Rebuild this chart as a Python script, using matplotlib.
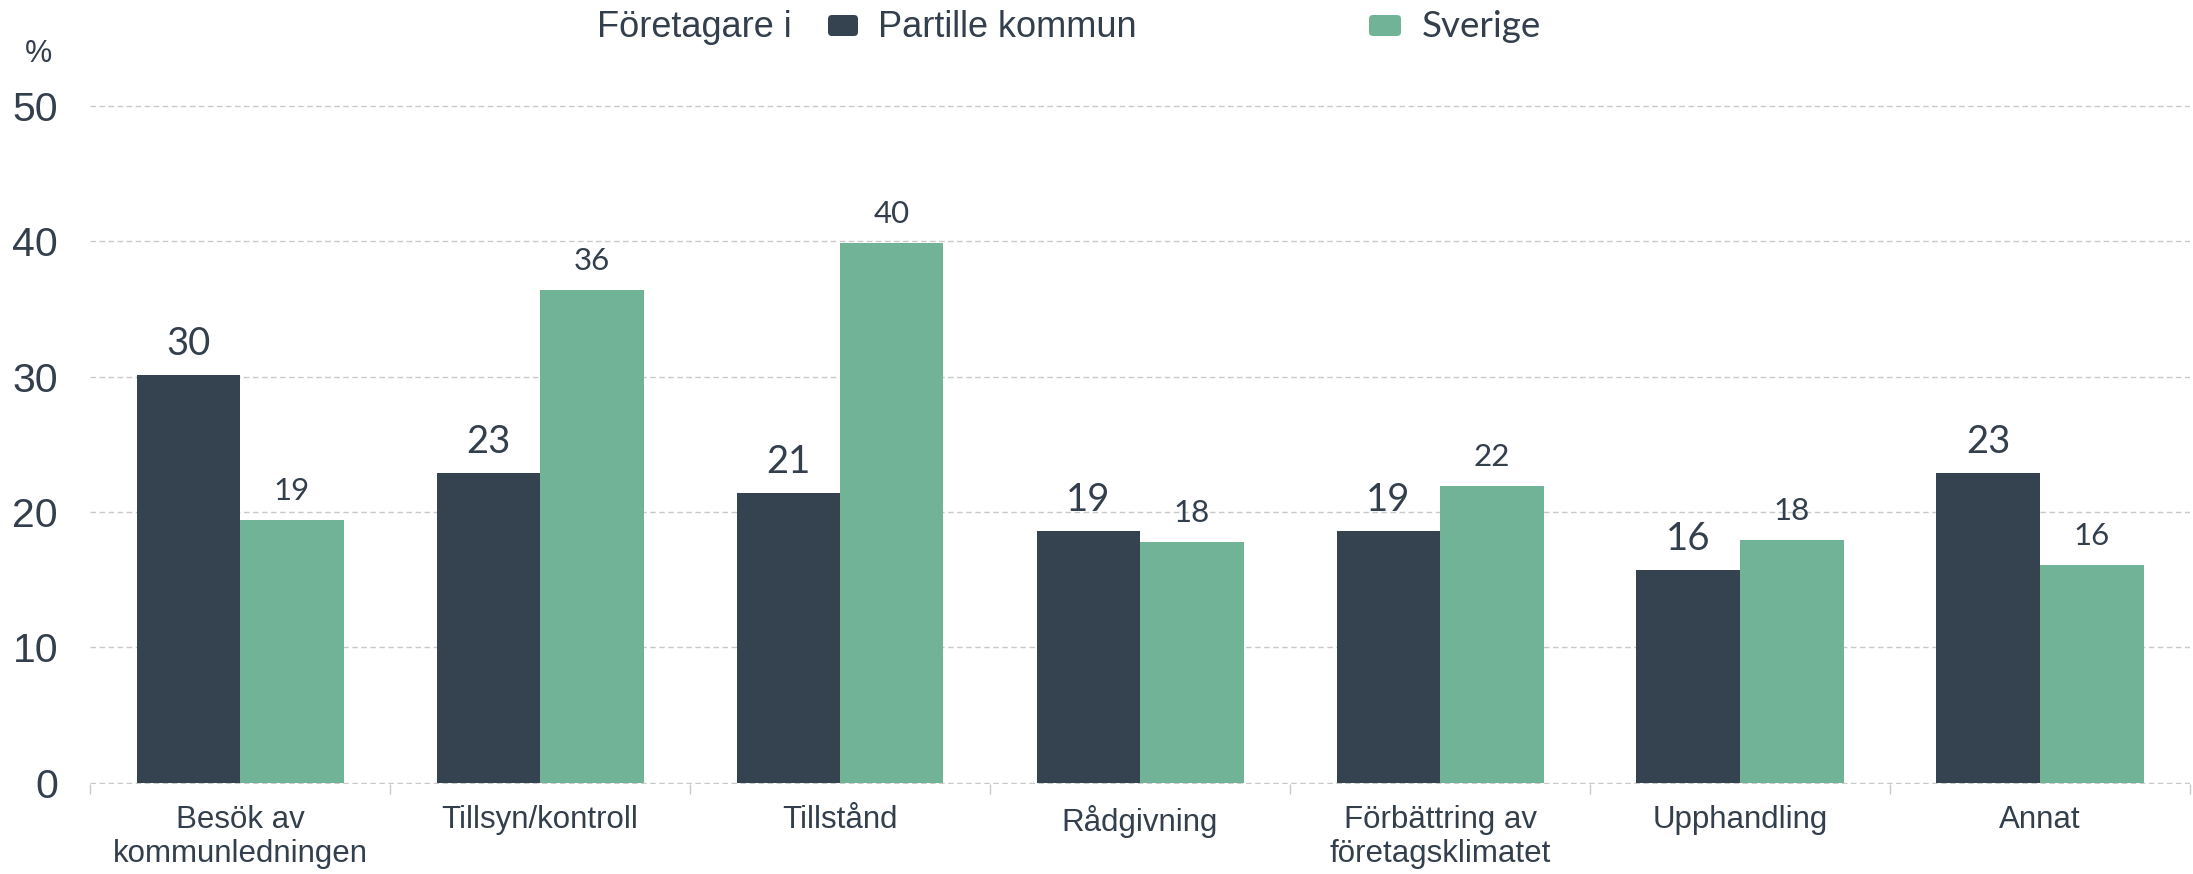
import matplotlib
matplotlib.use("Agg")
import matplotlib.pyplot as plt
from matplotlib.patches import FancyBboxPatch
from matplotlib.transforms import IdentityTransform
import numpy as np

# ---- data ----
categories = ["Besök av\nkommunledningen", "Tillsyn/kontroll", "Tillstånd", "Rådgivning",
              "Förbättring av\nföretagsklimatet", "Upphandling", "Annat"]
partille = [30.1, 22.9, 21.4, 18.6, 18.6, 15.7, 22.9]
sverige = [19.4, 36.4, 39.9, 17.8, 21.9, 17.9, 16.1]
series_names = ["Partille kommun", "Sverige"]
legend_title = "Företagare i"
y_ticks = [0, 10, 20, 30, 40, 50]
y_unit = "%"

# ---- style ----
DARK = "#35424F"
GREEN = "#70B396"
TEXT = "#333F4C"
GRID = "#C9C9C9"

plt.rcParams['font.family'] = ['Liberation Sans', 'DejaVu Sans']

W, H = 2193, 874
fig = plt.figure(figsize=(W / 100, H / 100), dpi=100)

ppu = (782.7 - 106.0) / 50.0
ymin, ymax = -0.1, 50.1
bottom_px = 782.7 + 0.1 * ppu
top_px = 106.0 - 0.1 * ppu
ax = fig.add_axes([90 / W, 1 - bottom_px / H, 2100 / W, (bottom_px - top_px) / H])

x = np.arange(len(categories))
bw = 0.345
b1 = ax.bar(x - bw / 2, partille, width=bw, color=DARK, zorder=2)
b2 = ax.bar(x + bw / 2, sverige, width=bw, color=GREEN, zorder=2)

ax.set_xlim(-0.5, len(categories) - 0.5)
ax.set_ylim(ymin, ymax)

for s in ax.spines.values():
    s.set_visible(False)

ax.set_yticks(y_ticks)
ax.set_yticklabels([str(t) for t in y_ticks])
ax.yaxis.grid(True, color=GRID, linestyle=(0, (4, 2.5)), linewidth=1.0)
ax.set_axisbelow(True)
ax.tick_params(axis='y', length=0, pad=23, labelsize=29.5, labelcolor=TEXT)

# boundary ticks (major) + centered labels (minor)
ax.set_xticks(np.arange(-0.5, len(categories), 1.0))
ax.set_xticklabels([])
ax.set_xticks(x, minor=True)
ax.set_xticklabels(categories, minor=True)
ax.tick_params(axis='x', which='major', length=7.2, width=1.0, color=GRID)
ax.tick_params(axis='x', which='minor', length=0, pad=15.0, labelsize=22.5, labelcolor=TEXT)

for bars, vals, fs in ((b1, partille, 27.5), (b2, sverige, 22.5)):
    for rect, v in zip(bars, vals):
        ax.annotate(f"{round(v):d}", (rect.get_x() + rect.get_width() / 2, v),
                    xytext=(0, 14.4), textcoords='offset points',
                    ha='center', va='baseline', fontsize=fs, color=TEXT,
                    family=['Lato', 'DejaVu Sans'])

# unit label
fig.text(38 / W, 1 - 54 / H, y_unit, ha='center', va='center', fontsize=22, color=TEXT)

# legend (manual)
base_y = 1 - 37.3 / H
fig.text(597 / W, base_y, legend_title, ha='left', va='baseline', fontsize=26, color=TEXT)
fig.add_artist(FancyBboxPatch((828, H - 36), 30, 21, boxstyle="round,pad=0,rounding_size=4",
                              transform=IdentityTransform(), facecolor=DARK, edgecolor='none'))
fig.text(878 / W, base_y, series_names[0], ha='left', va='baseline', fontsize=26, color=TEXT)
fig.add_artist(FancyBboxPatch((1369, H - 36), 32, 21, boxstyle="round,pad=0,rounding_size=4",
                              transform=IdentityTransform(), facecolor=GREEN, edgecolor='none'))
fig.text(1422 / W, base_y, series_names[1], ha='left', va='baseline', fontsize=26.5, color=TEXT,
         family=['Lato', 'DejaVu Sans'])

fig.savefig("out.png", dpi=100)
